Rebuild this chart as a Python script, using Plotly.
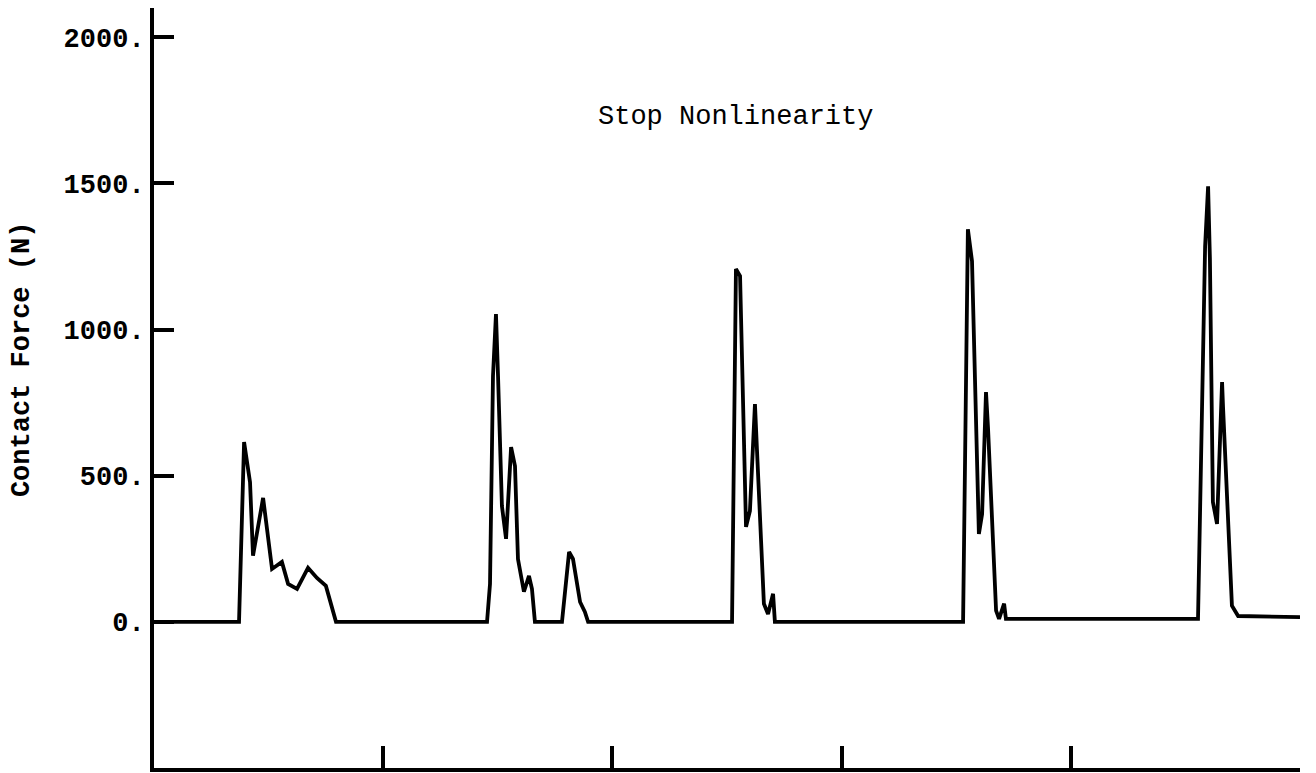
import plotly.graph_objects as go

# Time axis in tick intervals (unlabelled), force in newtons
time_pts = [
    0.00, 0.371,
    # impact 1
    0.393, 0.419, 0.432, 0.476, 0.515, 0.558, 0.585, 0.624, 0.672, 0.711, 0.750, 0.794,
    1.453,
    # impact 2
    1.466, 1.479, 1.492, 1.501, 1.518, 1.536, 1.558, 1.575, 1.588, 1.614, 1.636, 1.649, 1.662,
    1.780, 1.811, 1.828, 1.859, 1.880, 1.894,
    2.522,
    # impact 3
    2.539, 2.557, 2.583, 2.600, 2.622, 2.631, 2.661, 2.679, 2.701, 2.709,
    3.530,
    # impact 4
    3.551, 3.569, 3.599, 3.613, 3.630, 3.639, 3.674, 3.687, 3.709, 3.717,
    4.555,
    # impact 5
    4.586, 4.599, 4.607, 4.620, 4.638, 4.660, 4.664, 4.703, 4.730, 5.00,
]
force_pts = [
    0, 0,
    615, 478, 226, 424, 181, 205, 130, 113, 185, 150, 123, 0,
    0,
    130, 841, 1053, 841, 396, 284, 598, 533, 215, 103, 157, 113, 0,
    0, 239, 215, 68, 34, 0,
    0,
    1207, 1183, 325, 379, 745, 584, 62, 27, 96, 0,
    0,
    1343, 1234, 301, 369, 786, 660, 38, 10, 62, 10,
    10,
    1285, 1490, 1241, 410, 335, 820, 738, 55, 20, 16,
]

y_tick_vals = [0, 500, 1000, 1500, 2000]
y_tick_text = ["0.", "500.", "1000.", "1500.", "2000."]
x_tick_vals = [1, 2, 3, 4, 5]

chart_label = "Stop Nonlinearity"
y_label = "Contact Force (N)"

mono = "Courier New, Liberation Mono, monospace"

fig = go.Figure()
fig.add_trace(go.Scatter(
    x=time_pts, y=force_pts, mode="lines",
    line=dict(color="black", width=3.8),
    hoverinfo="skip", showlegend=False,
))

fig.update_layout(
    width=1316, height=773,
    margin=dict(l=154, r=16, t=8, b=5),
    paper_bgcolor="white", plot_bgcolor="white",
    font=dict(family=mono, color="black", size=27),
    xaxis=dict(
        range=[0, 5], showgrid=False, zeroline=False,
        showline=True, linecolor="black", linewidth=4,
        ticks="inside", ticklen=22, tickwidth=3.5, tickcolor="black",
        tickvals=x_tick_vals, showticklabels=False,
    ),
    yaxis=dict(
        range=[-500, 2100], showgrid=False, zeroline=False,
        showline=True, linecolor="black", linewidth=4,
        ticks="inside", ticklen=20, tickwidth=3.5, tickcolor="black",
        tickvals=y_tick_vals, ticktext=y_tick_text,
        tickfont=dict(family=mono, size=27, weight="bold"),
        ticklabelstandoff=0,
    ),
    annotations=[
        dict(text=chart_label, x=2.535, y=1726, xref="x", yref="y",
             showarrow=False, font=dict(family=mono, size=27)),
        dict(text=y_label, textangle=-90, x=-0.1152, y=0.538,
             xref="paper", yref="paper", showarrow=False,
             xanchor="center", yanchor="middle",
             font=dict(family=mono, size=27, weight="bold")),
    ],
)

fig.write_html("out.html")
